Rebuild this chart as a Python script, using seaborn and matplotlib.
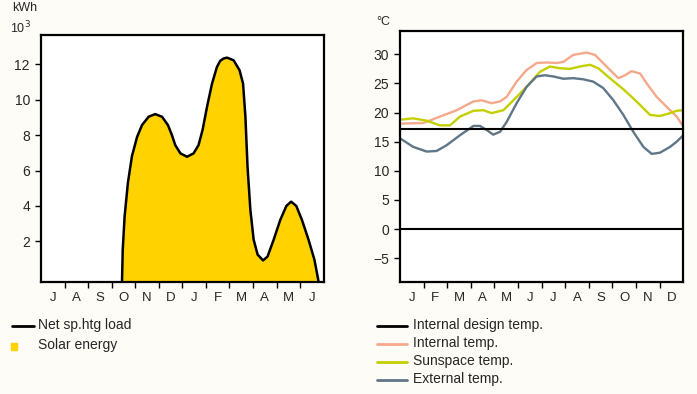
import matplotlib
matplotlib.use("Agg")
import matplotlib.pyplot as plt
import numpy as np
import pandas as pd
import seaborn as sns

# month labels
months_heating = ["J", "A", "S", "O", "N", "D", "J", "F", "M", "A", "M", "J"]
months_year = ["J", "F", "M", "A", "M", "J", "J", "A", "S", "O", "N", "D"]

# left chart: net space heating load (10^3 kWh), x in months (0 = July)
load_x = [2.94, 2.97, 3.05, 3.19, 3.36, 3.58, 3.79, 4.07, 4.35, 4.64, 4.89, 5.06,
          5.20, 5.42, 5.70, 5.98, 6.19, 6.36, 6.55, 6.76, 6.97, 7.11, 7.25, 7.40,
          7.68, 7.93, 8.08, 8.18, 8.27, 8.39, 8.53, 8.70, 8.93, 9.12, 9.38, 9.66,
          9.92, 10.12, 10.34, 10.58, 10.86, 11.11, 11.29]
load_y = [-0.3, 1.5, 3.4, 5.3, 6.8, 7.9, 8.57, 9.04, 9.19, 9.04, 8.57, 8.0,
          7.44, 6.97, 6.78, 6.97, 7.44, 8.29, 9.6, 10.9, 11.85, 12.2, 12.33, 12.38,
          12.23, 11.67, 10.92, 9.04, 6.22, 3.78, 2.09, 1.24, 0.92, 1.14, 2.09, 3.21,
          4.0, 4.24, 4.0, 3.21, 2.09, 0.96, -0.3]

# right chart: temperatures (deg C), x in months (0 = January)
internal_x = [-0.43, 0.49, 1.19, 1.90, 2.61, 2.96, 3.38, 3.74, 4.02, 4.44, 4.86,
              5.29, 5.71, 6.14, 6.42, 6.84, 7.41, 7.76, 8.25, 8.75, 9.03, 9.31,
              9.67, 9.95, 10.37, 10.79, 11.22, 11.50]
internal_y = [18.1, 18.2, 19.3, 20.4, 21.9, 22.1, 21.6, 21.9, 22.7, 25.3, 27.3,
              28.5, 28.6, 28.5, 28.7, 29.9, 30.3, 29.9, 27.9, 25.9, 26.4, 27.1,
              26.7, 25.0, 22.7, 21.0, 19.3, 17.6]

sunspace_x = [-0.43, 0.06, 0.63, 1.19, 1.62, 2.04, 2.61, 3.03, 3.38, 3.88, 4.30,
              4.86, 5.43, 5.85, 6.28, 6.70, 7.12, 7.55, 7.90, 8.39, 8.96, 9.52,
              10.09, 10.51, 10.94, 11.22, 11.50]
sunspace_y = [18.8, 19.0, 18.6, 17.8, 17.8, 19.3, 20.3, 20.4, 19.9, 20.4, 22.1,
              24.4, 27.0, 27.9, 27.6, 27.5, 27.9, 28.2, 27.6, 25.9, 24.0, 21.9,
              19.6, 19.4, 19.9, 20.3, 20.4]

external_x = [-0.47, 0.06, 0.63, 1.05, 1.48, 2.04, 2.61, 2.89, 3.17, 3.45, 3.74,
              4.02, 4.44, 4.86, 5.29, 5.64, 5.99, 6.42, 6.84, 7.27, 7.69, 8.11,
              8.54, 8.96, 9.38, 9.81, 10.16, 10.51, 10.94, 11.22, 11.50]
external_y = [15.5, 14.1, 13.3, 13.4, 14.4, 16.1, 17.7, 17.7, 17.0, 16.2, 16.7,
              18.4, 21.6, 24.4, 26.2, 26.4, 26.2, 25.8, 25.9, 25.7, 25.3, 24.2,
              22.1, 19.6, 16.7, 14.1, 12.9, 13.1, 14.1, 15.0, 16.1]

design_temp = 17.1

sns.set_theme(style="white")
plt.rcParams["font.family"] = ["Liberation Sans", "DejaVu Sans"]
plt.rcParams["axes.linewidth"] = 1.6

bg = "#fdfcf6"
yellow = "#ffd200"
c_internal = "#f5a88a"
c_sunspace = "#c4cf00"
c_external = "#5f7688"

fig = plt.figure(figsize=(6.97, 3.94), dpi=100, facecolor=bg)
ax1 = fig.add_axes([41 / 697, 112 / 394, 282.6 / 697, 247 / 394])
ax2 = fig.add_axes([400 / 697, 112 / 394, 283.3 / 697, 251 / 394])

# left chart
load = pd.DataFrame({"month": load_x, "kwh": load_y})
ax1.fill_between(load["month"], load["kwh"], -0.3, color=yellow, lw=0)
sns.lineplot(data=load, x="month", y="kwh", ax=ax1, color="black", lw=1.8, sort=False)
ax1.set_xlim(-0.5, 11.5)
ax1.set_ylim(-0.3, 13.66)
ax1.set_yticks([2, 4, 6, 8, 10, 12])

# right chart
for xs, ys, col in [(internal_x, internal_y, c_internal),
                    (sunspace_x, sunspace_y, c_sunspace),
                    (external_x, external_y, c_external)]:
    df = pd.DataFrame({"month": xs, "temp": ys})
    sns.lineplot(data=df, x="month", y="temp", ax=ax2, color=col, lw=1.7, sort=False)
ax2.axhline(design_temp, color="black", lw=1.5)
ax2.axhline(0, color="black", lw=1.5)
ax2.set_xlim(-0.5, 11.5)
ax2.set_ylim(-9.1, 34)
ax2.set_yticks([-5, 0, 5, 10, 15, 20, 25, 30])
ax2.set_yticklabels(["\u22125", "0", "5", "10", "15", "20", "25", "30"])

for ax, labels in [(ax1, months_heating), (ax2, months_year)]:
    ax.set_facecolor("white")
    ax.set_xlabel("")
    ax.set_ylabel("")
    for s in ax.spines.values():
        s.set_color("black")
    ax.set_xticks(np.arange(0.5, 11.5, 1))
    ax.set_xticklabels([])
    ax.set_xticks(np.arange(12), minor=True)
    ax.set_xticklabels(labels, minor=True, fontsize=9.5)
    ax.tick_params(axis="x", which="major", direction="out", length=4, width=1, color="black", bottom=True)
    ax.tick_params(axis="x", which="minor", length=0, pad=7, bottom=True)
    ax.tick_params(axis="y", direction="out", length=4, width=1, color="black", left=True,
                   labelsize=10, pad=4)

# unit labels
fig.text(12 / 697, 1 - 8 / 394, "kWh", fontsize=9, va="center", ha="left")
fig.text(10 / 697, 1 - 28 / 394, "10$^3$", fontsize=9, va="center", ha="left")
fig.text(376 / 697, 1 - 22 / 394, "\u00b0C", fontsize=9, va="center", ha="left")

# legends drawn by hand
def legend_line(x0, x1, y, color):
    fig.add_artist(plt.Line2D([x0 / 697, x1 / 697], [1 - y / 394, 1 - y / 394],
                              color=color, lw=2, transform=fig.transFigure))

legend_line(12, 34, 326, "black")
fig.add_artist(plt.Rectangle((11 / 697, 1 - 350 / 394), 6 / 697, 7 / 394,
                             color=yellow, transform=fig.transFigure))
fig.text(38 / 697, 1 - 325 / 394, "Net sp.htg load", fontsize=10, va="center")
fig.text(38 / 697, 1 - 345 / 394, "Solar energy", fontsize=10, va="center")

right_legend = [("Internal design temp.", "black"), ("Internal temp.", c_internal),
                ("Sunspace temp.", c_sunspace), ("External temp.", c_external)]
for i, (txt, col) in enumerate(right_legend):
    y = 326 + 18 * i
    legend_line(377, 407, y, col)
    fig.text(413 / 697, 1 - (y - 1) / 394, txt, fontsize=10, va="center")

plt.savefig("out.png", dpi=100, facecolor=bg)
plt.close()
